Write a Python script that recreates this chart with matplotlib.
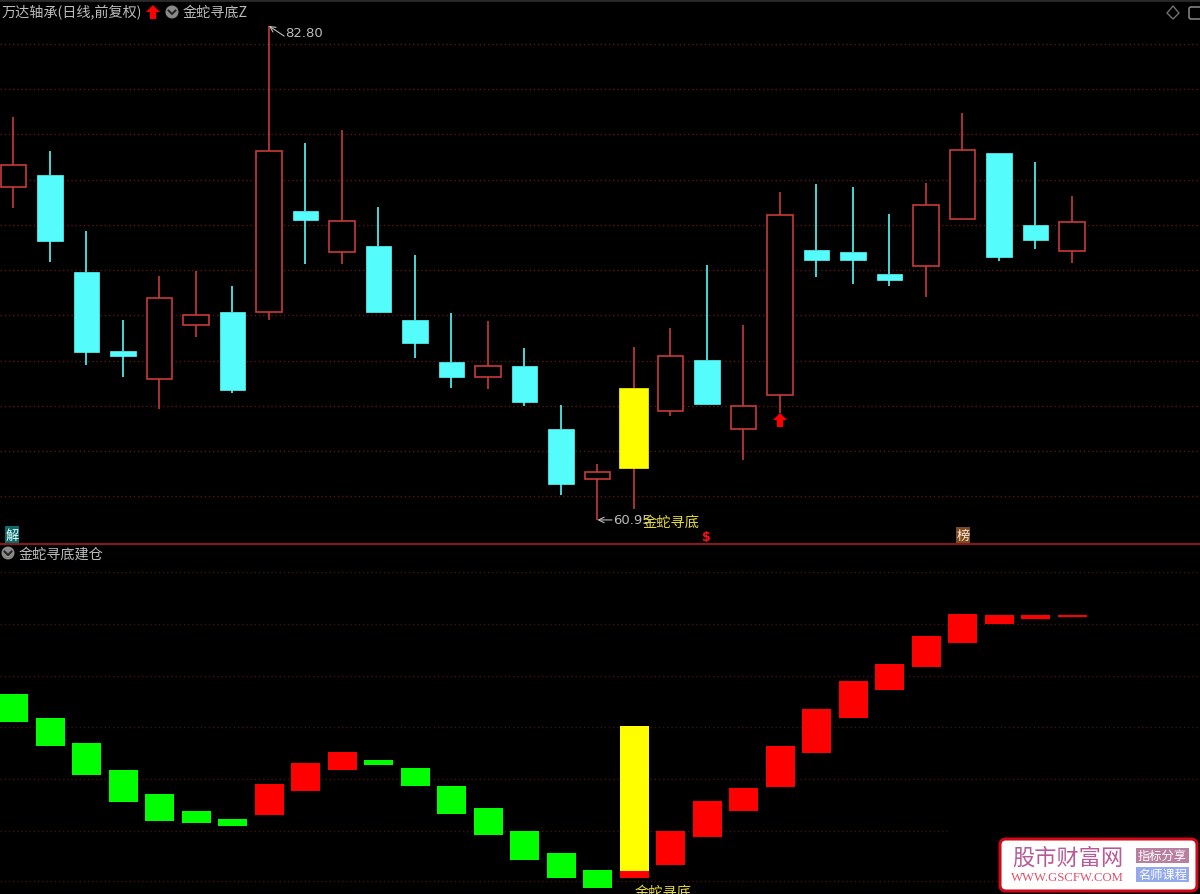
import numpy as np
import matplotlib
matplotlib.use('Agg')
import matplotlib.pyplot as plt
from matplotlib.patches import Rectangle, Circle, Polygon, FancyBboxPatch

plt.rcParams['font.family'] = ['Noto Sans CJK SC', 'DejaVu Sans']

# K line data
highs = [78.78, 77.27, 73.73, 69.80, 71.74, 71.96, 71.30, 82.80, 77.63, 78.20,
         74.79, 72.67, 70.11, 69.75, 68.56, 66.04, 63.43, 68.60, 69.44, 72.23,
         69.58, 75.46, 75.81, 75.68, 74.48, 75.86, 78.95, 77.18, 76.78, 75.28]
tops = [76.65, 76.21, 71.92, 68.43, 70.77, 70.02, 70.15, 77.27, 74.62, 74.18,
        73.07, 69.80, 67.94, 67.76, 67.76, 64.98, 63.07, 66.79, 68.20, 68.03,
        65.99, 74.44, 72.89, 72.80, 71.83, 74.88, 77.32, 77.18, 74.00, 74.13]
bottoms = [75.68, 73.29, 68.38, 68.20, 67.19, 69.58, 66.70, 70.15, 74.22, 72.80,
           70.15, 68.78, 67.28, 67.28, 66.17, 62.54, 62.76, 63.25, 65.77, 66.08,
           64.98, 66.48, 72.45, 72.45, 71.57, 72.19, 74.26, 72.58, 73.33, 72.85]
lows = [74.75, 72.36, 67.81, 67.28, 65.86, 69.04, 66.57, 69.80, 72.27, 72.27,
        70.15, 68.12, 66.79, 66.74, 65.99, 62.06, 60.95, 61.44, 65.55, 66.08,
        63.60, 65.68, 71.70, 71.39, 71.30, 70.81, 74.26, 72.41, 72.94, 72.32]
kinds = ['r', 'c', 'c', 'c', 'r', 'r', 'c', 'r', 'c', 'r',
         'c', 'c', 'c', 'r', 'c', 'c', 'r', 'y', 'r', 'c',
         'r', 'r', 'c', 'c', 'c', 'r', 'r', 'c', 'c', 'r']
price_grid = [82, 80, 78, 76, 74, 72, 70, 68, 66, 64, 62]

# lower panel bars
ind_top = [36.41, 31.75, 26.89, 21.65, 16.99, 13.69, 12.14, 18.93, 23.01, 25.15,
           23.59, 22.04, 18.54, 14.27, 9.81, 5.53, 2.23, 30.19, 9.81, 15.63,
           18.16, 26.31, 33.50, 38.93, 42.23, 47.67, 51.94, 51.75, 51.75, 51.75]
ind_bottom = [30.97, 26.31, 20.68, 15.44, 11.75, 11.36, 10.78, 12.91, 17.57, 21.65,
              22.62, 18.54, 13.11, 9.03, 4.17, 0.68, -1.26, 2.04, 3.20, 8.64,
              13.69, 18.35, 24.95, 31.75, 37.18, 41.65, 46.31, 50.00, 50.97, 51.36]
ind_kinds = ['g', 'g', 'g', 'g', 'g', 'g', 'g', 'r', 'r', 'r',
             'g', 'g', 'g', 'g', 'g', 'g', 'g', 'y', 'r', 'r',
             'r', 'r', 'r', 'r', 'r', 'r', 'r', 'r', 'r', 'r']
ind_signal_bottom = 0.68
ind_grid = [60.1, 50, 39.9, 30, 19.9, 0]
ind_short_grid = 9.8  # this one stops before the badge

BG = '#000000'
RED = '#c83a3a'
CYAN = '#54fcfc'
GRID = '#5c1414'
GRID2 = '#431010'
GRAY = '#bcbcbc'
YELLOW = '#ffff00'
DOTS = (0, (1, 2))

fig = plt.figure(figsize=(12, 8.95), dpi=100, facecolor=BG)

# upper panel: x is candle number, y is price
ax = fig.add_axes([0, 1 - 544 / 895, 1, 544 / 895], facecolor=BG)
ax.set_xlim(-0.365, 32.508)
ax.set_ylim(59.93, 83.99)
ax.axis('off')

# lower panel
ax2 = fig.add_axes([0, 0, 1, 350 / 895], facecolor=BG)
ax2.set_xlim(-0.375, 32.498)
ax2.set_ylim(-2.43, 65.53)
ax2.axis('off')

# overlay in pixels for the icons and the badge
ov = fig.add_axes([0, 0, 1, 1], facecolor='none')
ov.set_xlim(0, 1200)
ov.set_ylim(895, 0)
ov.axis('off')

for g in price_grid:
    ax.axhline(g, color=GRID, lw=1, ls=DOTS, zorder=1)
for g in ind_grid:
    ax2.axhline(g, color=GRID2, lw=1, ls=DOTS, zorder=1)
ax2.axhline(ind_short_grid, xmax=948 / 1200, color=GRID2, lw=1, ls=DOTS, zorder=1)

w = 0.70
wy = 0.79
for i in range(len(highs)):
    k = kinds[i]
    if k == 'c':
        wick = CYAN
    else:
        wick = RED
    ax.plot([i, i], [tops[i], highs[i]], color=wick, lw=1.2, zorder=2, solid_capstyle='butt')
    ax.plot([i, i], [lows[i], bottoms[i]], color=wick, lw=1.2, zorder=2, solid_capstyle='butt')
    h = tops[i] - bottoms[i]
    if k == 'r':
        ax.add_patch(Rectangle((i - w / 2, bottoms[i]), w, h, fc=BG, ec=RED, lw=1.2, zorder=3))
    elif k == 'c':
        ax.add_patch(Rectangle((i - w / 2, bottoms[i]), w, h, fc=CYAN, ec=CYAN, lw=0.5, zorder=3))
    else:
        ax.add_patch(Rectangle((i - wy / 2, bottoms[i]), wy, h, fc=YELLOW, ec=YELLOW, lw=0.5, zorder=3))

w2 = 0.80
colors2 = {'g': '#00ff00', 'r': '#ff0000', 'y': YELLOW}
for i in range(len(ind_top)):
    ax2.bar(i, ind_top[i] - ind_bottom[i], w2, bottom=ind_bottom[i],
            color=colors2[ind_kinds[i]], zorder=3)
    if ind_kinds[i] == 'y':
        ax2.bar(i, ind_bottom[i] - ind_signal_bottom, w2, bottom=ind_signal_bottom,
                color='#ff0000', zorder=3)

# high / low notes
ax.text(7.44, 82.80, '82.80', color=GRAY, fontsize=9.5, va='top', ha='left', zorder=5,
        family=['DejaVu Sans'])
ax.annotate('', xy=(7, 82.8), xytext=(7.42, 82.35),
            arrowprops=dict(arrowstyle='->', color=GRAY, lw=0.8, shrinkA=0, shrinkB=0))
ax.text(16.42, 60.95, '60.95', color=GRAY, fontsize=9.5, va='center', ha='left', zorder=5,
        family=['DejaVu Sans'])
ax.annotate('', xy=(16, 60.95), xytext=(16.4, 60.95),
            arrowprops=dict(arrowstyle='->', color=GRAY, lw=0.8, shrinkA=0, shrinkB=0))
ax.text(17.25, 60.85, '金蛇寻底', color='#e6dc28', fontsize=10.3, va='center', ha='left', zorder=6)
ax2.text(17.78, -2.0, '金蛇寻底', color='#e6dc28', fontsize=10.3, va='center', ha='center',
         zorder=6, clip_on=False)

# header lines
ov.plot([0, 1200], [1, 1], color='#2a2a2a', lw=2)
ov.plot([0, 1200], [544.8, 544.8], color='#8a1a1a', lw=1.5)
ov.text(2, 13, '万达轴承(日线,前复权)', color=GRAY, fontsize=10.2, va='center', ha='left')
ov.text(183, 13, '金蛇寻底Z', color=GRAY, fontsize=10.2, va='center', ha='left')
ov.text(19, 555, '金蛇寻底建仓', color=GRAY, fontsize=10.2, va='center', ha='left')


def up_arrow(x, y0, y1, hw):
    # small red arrow like the one the software draws
    mid = y0 + (y1 - y0) * 0.5
    ov.add_patch(Polygon([(x, y0), (x + hw, mid), (x + hw * 0.45, mid), (x + hw * 0.45, y1),
                          (x - hw * 0.45, y1), (x - hw * 0.45, mid), (x - hw, mid)],
                         fc='#ff0000', ec='none', zorder=6))


def chevron(x, y):
    ov.add_patch(Circle((x, y), 6.5, fc='#8a8a8a', ec='none', zorder=6))
    ov.plot([x - 3.5, x, x + 3.5], [y - 1.5, y + 2, y - 1.5], color='#222222', lw=1.4, zorder=7)


up_arrow(153, 6, 20, 7)
up_arrow(780, 414, 428, 7)
chevron(172, 13)
chevron(8, 554)

# top right icons
ov.add_patch(Polygon([(1173, 7), (1179, 14), (1173, 20), (1167, 14)], fc='none', ec='#707070', lw=1))
ov.add_patch(FancyBboxPatch((1189, 8), 14, 12, boxstyle='round,pad=0,rounding_size=2',
                            fc='none', ec='#808080', lw=1.2, clip_on=True))

# marks on the separator
ov.add_patch(Rectangle((5, 527), 14, 17, fc='#0c6a6a', ec='none', zorder=6))
ov.text(12, 536, '解', color='#e8ffff', fontsize=9.5, va='center', ha='center', zorder=7)
ov.add_patch(Rectangle((956, 528), 14, 16, fc='#7a4a20', ec='none', zorder=6))
ov.text(963, 536, '榜', color='#ffe8d8', fontsize=9.5, va='center', ha='center', zorder=7)
ov.text(706, 538, '$', color='#ff1010', fontsize=9, fontweight='bold', va='center', ha='center',
        zorder=7, family=['DejaVu Sans'])

# watermark badge
ov.add_patch(FancyBboxPatch((1000, 840), 197, 52, boxstyle='round,pad=0,rounding_size=6',
                            fc='#ffffff', ec='#d00818', lw=2.2, zorder=8))
ov.text(1067.5, 858, '股市财富网', color='#b85a98', fontsize=16, va='center', ha='center', zorder=9,
        fontweight='light')
ov.text(1067, 878, 'WWW.GSCFW.COM', color='#e0506a', fontsize=9.2, va='center', ha='center',
        zorder=9, family=['Liberation Serif'])
ov.add_patch(Rectangle((1136, 849), 53, 15, fc='#b87fa0', ec='none', zorder=9))
ov.text(1162.5, 856.5, '指标分享', color='#ffffff', fontsize=8.8, va='center', ha='center', zorder=10)
ov.add_patch(Rectangle((1136, 868), 53, 15, fc='#94aaec', ec='none', zorder=9))
ov.text(1162.5, 875.5, '名师课程', color='#ffffff', fontsize=8.8, va='center', ha='center', zorder=10)

fig.savefig('out.png', dpi=100, facecolor=BG)
